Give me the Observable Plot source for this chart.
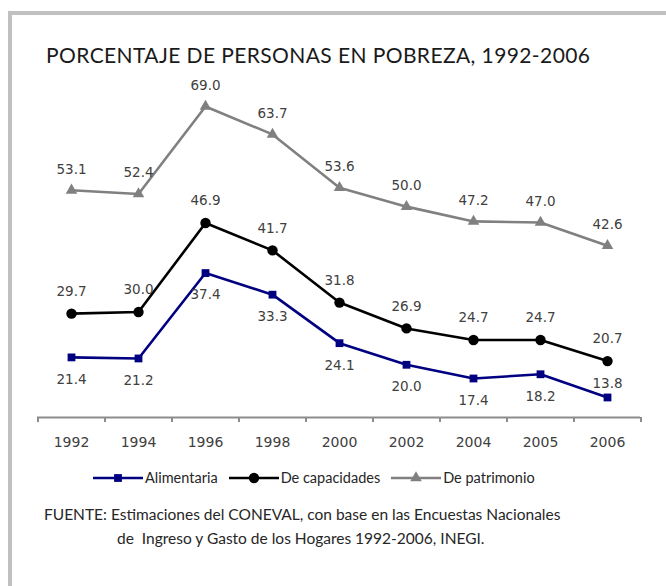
<!DOCTYPE html>
<html><head><meta charset="utf-8">
<script src="https://cdn.jsdelivr.net/npm/d3@7"></script>
<script src="https://cdn.jsdelivr.net/npm/@observablehq/plot@0.6"></script>
<style>
body{margin:0;background:#fff;}
#wrap{position:relative;width:666px;height:586px;overflow:hidden;font-family:"Lato",sans-serif;color:#262626;}
#border{position:absolute;left:8px;top:11px;width:700px;height:620px;border-left:4px solid #c0c0c0;border-top:4px solid #c0c0c0;}
#chart{position:absolute;left:0;top:0;}
#title{position:absolute;left:46px;top:44px;font-size:21px;line-height:21px;letter-spacing:0.4px;white-space:nowrap;color:#1a1a1a;}
#legend{position:absolute;left:93px;top:468px;height:20px;display:flex;align-items:center;font-size:14.5px;line-height:14.5px;white-space:nowrap;}
#legend .item{display:flex;align-items:center;margin-right:11px;}
#legend svg{display:block;margin-right:2px;}
.foot{position:absolute;font-size:15.5px;line-height:15.5px;white-space:nowrap;}
</style></head>
<body>
<div id="wrap">
  <div id="border"></div>
  <div id="chart"></div>
  <div id="title"></div>
  <div id="legend"></div>
  <div class="foot" id="f1" style="left:44px;top:507px;"></div>
  <div class="foot" id="f2" style="left:117px;top:531px;"></div>
</div>
<script>
const title = "PORCENTAJE DE PERSONAS EN POBREZA, 1992-2006";
const years = ["1992","1994","1996","1998","2000","2002","2004","2005","2006"];
const alimentaria = [21.4, 21.2, 37.4, 33.3, 24.1, 20.0, 17.4, 18.2, 13.8];
const capacidades = [29.7, 30.0, 46.9, 41.7, 31.8, 26.9, 24.7, 24.7, 20.7];
const patrimonio  = [53.1, 52.4, 69.0, 63.7, 53.6, 50.0, 47.2, 47.0, 42.6];
const seriesNames = ["Alimentaria", "De capacidades", "De patrimonio"];
const footLines = [
  "FUENTE: Estimaciones del CONEVAL, con base en las Encuestas Nacionales",
  "de\u00a0 Ingreso y Gasto de los Hogares 1992-2006, INEGI."
];

const colors = ["#000080", "#000000", "#808080"];
const symbols = ["square", "circle", "triangle"];
const radii = [4.4, 5.2, 4.3];

const toRows = (vals, name) => years.map((y, i) => ({year: y, value: vals[i], serie: name, i}));
const ali = toRows(alimentaria, seriesNames[0]);
const cap = toRows(capacidades, seriesNames[1]);
const pat = toRows(patrimonio, seriesNames[2]);
const all = [ali, cap, pat];

const STEP = (640 - 37) / years.length;
const labelFont = {fontSize: 13.5, fontFamily: "DejaVu Sans", fill: "#404040"};
const fmt = d => d.value.toFixed(1);

const marks = [
  Plot.ruleY([10], {stroke: "#8c8c8c", strokeWidth: 2}),
  Plot.ruleX(years, {x: d => d, dx: -STEP / 2, y1: 10, y2: 9.05, stroke: "#8c8c8c", strokeWidth: 2}),
  Plot.ruleX(years.slice(-1), {x: d => d, dx: STEP / 2, y1: 10, y2: 9.05, stroke: "#8c8c8c", strokeWidth: 2}),
  Plot.text(years, {x: d => d, frameAnchor: "bottom", dy: 25, lineAnchor: "middle", fontSize: 14, fontFamily: "DejaVu Sans", fill: "#404040"})
];
all.forEach((rows, k) => {
  marks.push(Plot.line(rows, {x: "year", y: "value", stroke: colors[k], strokeWidth: 2.6}));
  marks.push(Plot.dot(rows, {x: "year", y: "value", symbol: symbols[k], r: radii[k], fill: colors[k], stroke: "none"}));
});
marks.push(Plot.text(pat, {x: "year", y: "value", text: fmt, dy: -21, lineAnchor: "middle", ...labelFont}));
marks.push(Plot.text(cap, {x: "year", y: "value", text: fmt, dy: -22, lineAnchor: "middle", ...labelFont}));
marks.push(Plot.text(ali, {filter: d => d.i < years.length - 1, x: "year", y: "value", text: fmt, dy: 22, lineAnchor: "middle", ...labelFont}));
marks.push(Plot.text(ali, {filter: d => d.i === years.length - 1, x: "year", y: "value", text: fmt, dy: -14, lineAnchor: "middle", ...labelFont}));

const chart = Plot.plot({
  width: 666, height: 586,
  marginLeft: 37, marginRight: 26, marginTop: 48, marginBottom: 169,
  x: {type: "point", domain: years, padding: 0.5, axis: null},
  y: {domain: [10, 80], axis: null},
  style: {background: "transparent", overflow: "visible"},
  marks
});
document.getElementById("chart").appendChild(chart);
document.getElementById("title").textContent = title;
document.getElementById("f1").textContent = footLines[0];
document.getElementById("f2").textContent = footLines[1];

const leg = document.getElementById("legend");
seriesNames.forEach((name, k) => {
  const item = document.createElement("div");
  item.className = "item";
  const svg = d3.create("svg").attr("width", 50).attr("height", 14);
  svg.append("line").attr("x1", 0).attr("x2", 50).attr("y1", 7).attr("y2", 7).attr("stroke", colors[k]).attr("stroke-width", 2.6);
  const sym = {square: d3.symbolSquare, circle: d3.symbolCircle, triangle: d3.symbolTriangle}[symbols[k]];
  svg.append("path").attr("transform", "translate(25,7)").attr("d", d3.symbol(sym, Math.PI * radii[k] * radii[k])()).attr("fill", colors[k]);
  item.appendChild(svg.node());
  const span = document.createElement("span");
  span.textContent = name;
  item.appendChild(span);
  leg.appendChild(item);
});
</script>
</body></html>
